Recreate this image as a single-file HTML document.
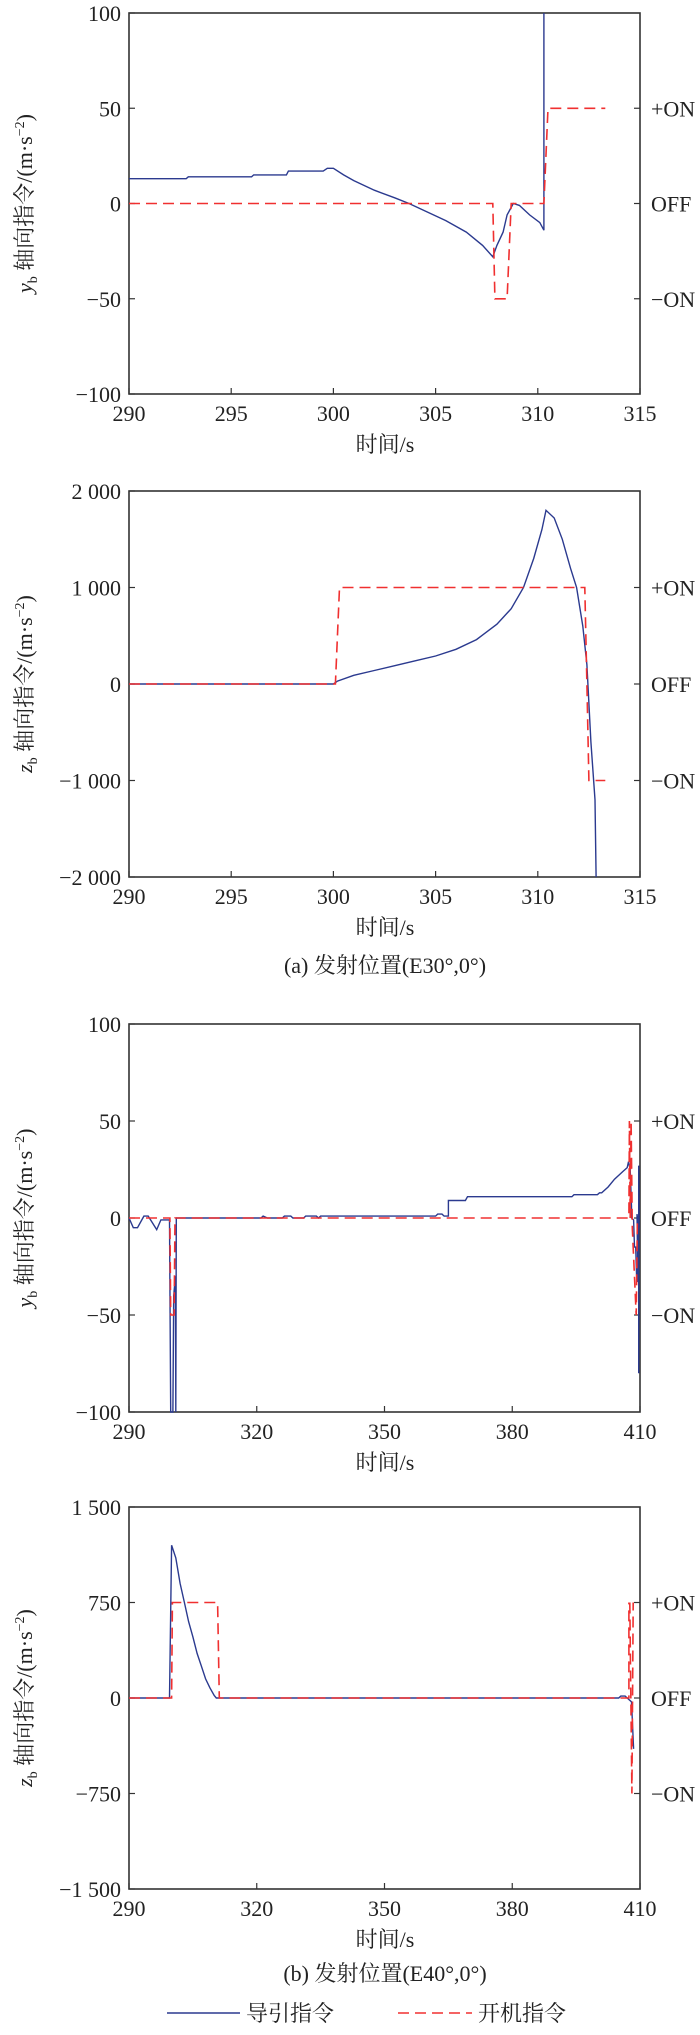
<!DOCTYPE html>
<html><head><meta charset="utf-8">
<style>
html,body{margin:0;padding:0;background:#fff;}
svg text{font-family:"Liberation Serif","Noto Serif CJK SC","Noto Sans CJK SC",serif;fill:#222;}
</style></head>
<body>
<svg id="s" width="700" height="2030" xmlns="http://www.w3.org/2000/svg"></svg>
<script>
const S=document.getElementById('s');
const NS='http://www.w3.org/2000/svg';
const FS=22;
function el(t,a,txt){const e=document.createElementNS(NS,t);for(const k in a)e.setAttribute(k,a[k]);if(txt!==undefined)e.textContent=txt;S.appendChild(e);return e;}
function plot(o){
 const L=129,R=640,T=o.top,B=o.bot;
 const X=x=>L+(x-o.x0)/(o.x1-o.x0)*(R-L);
 const Y=y=>T+(o.y1-y)/(o.y1-o.y0)*(B-T);
 el('rect',{x:L,y:T,width:R-L,height:B-T,fill:'none',stroke:'#333','stroke-width':1.6});
 o.yt.forEach(([v,l])=>{const y=Y(v);
   el('line',{x1:L,y1:y,x2:L+6,y2:y,stroke:'#333','stroke-width':1.2});
   el('text',{x:121,y:y+8,'text-anchor':'end','font-size':FS},l);});
 o.xt.forEach(v=>{const x=X(v);
   el('line',{x1:x,y1:B,x2:x,y2:B-6,stroke:'#333','stroke-width':1.2});
   el('text',{x:x,y:B+27,'text-anchor':'middle','font-size':FS},String(v));});
 o.rt.forEach(([v,l])=>{const y=Y(v);
   el('line',{x1:R,y1:y,x2:R-6,y2:y,stroke:'#333','stroke-width':1.2});
   el('text',{x:651,y:y+8,'font-size':FS},l);});
 el('text',{x:385,y:B+58,'text-anchor':'middle','font-size':FS},'时间/s');
 const cy=(T+B)/2;
 const t=el('text',{x:0,y:0,'text-anchor':'middle','font-size':FS,transform:`translate(32,${cy}) rotate(-90)`});
 const a=document.createElementNS(NS,'tspan');a.setAttribute('font-style','italic');a.textContent=o.v;t.appendChild(a);
 const b=document.createElementNS(NS,'tspan');b.setAttribute('font-size',14);b.setAttribute('dy',5);b.textContent='b';t.appendChild(b);
 const c=document.createElementNS(NS,'tspan');c.setAttribute('dy',-5);c.textContent=' 轴向指令/(m·s';t.appendChild(c);
 const d=document.createElementNS(NS,'tspan');d.setAttribute('font-size',14);d.setAttribute('dy',-8);d.textContent='−2';t.appendChild(d);
 const e=document.createElementNS(NS,'tspan');e.setAttribute('dy',8);e.textContent=')';t.appendChild(e);
 const P=pts=>pts.map((p,i)=>(i?'L':'M')+X(p[0]).toFixed(1)+' '+Y(p[1]).toFixed(1)).join('');
 (o.blue||[]).forEach(pts=>el('path',{d:P(pts),fill:'none',stroke:'#2b3a8f','stroke-width':1.4}));
 (o.red||[]).forEach(pts=>el('path',{d:P(pts),fill:'none',stroke:'#f03030','stroke-width':1.6,'stroke-dasharray':'11 6'}));
}
plot({top:13,bot:394,x0:290,x1:315,y0:-100,y1:100,v:'y',
 yt:[[100,'100'],[50,'50'],[0,'0'],[-50,'−50'],[-100,'−100']],xt:[290,295,300,305,310,315],
 rt:[[50,'+ON'],[0,'OFF'],[-50,'−ON']],
 blue:[[[290,13],[292.8,13],[292.9,14],[296,14],[296.1,15],[297.7,15],[297.8,17],[299.5,17],[299.7,18.5],[300,18.5],[300.5,15],[301,12],[302,7],[303,3],[303.7,0],[304.5,-4],[305.5,-9],[306.5,-15],[307.3,-22],[307.8,-28],[308,-22],[308.3,-15],[308.5,-6],[308.8,0],[309.1,-1],[309.6,-6],[310.1,-10],[310.3,-14],[310.3,100]]],
 red:[[[290,0],[307.8,0],[307.9,-50],[308.5,-50],[308.7,0],[310.3,0],[310.5,50],[313.3,50]]]});
plot({top:491,bot:877,x0:290,x1:315,y0:-2000,y1:2000,v:'z',
 yt:[[2000,'2 000'],[1000,'1 000'],[0,'0'],[-1000,'−1 000'],[-2000,'−2 000']],xt:[290,295,300,305,310,315],
 rt:[[1000,'+ON'],[0,'OFF'],[-1000,'−ON']],
 blue:[[[290,0],[300,0],[300.2,30],[301,90],[302,140],[303,190],[304,240],[305,290],[306,360],[307,460],[308,620],[308.7,780],[309.3,1000],[309.8,1300],[310.2,1600],[310.4,1800],[310.8,1720],[311.2,1500],[311.6,1200],[311.9,1000],[312.2,600],[312.4,200],[312.6,-600],[312.8,-1200],[312.85,-2000]]],
 red:[[[290,0],[300.1,0],[300.3,1000],[312.3,1000],[312.4,0],[312.5,-1000],[313.3,-1000]]]});
el('text',{x:385,y:973,'text-anchor':'middle','font-size':FS},'(a) 发射位置(E30°,0°)');
plot({top:1024,bot:1412,x0:290,x1:410,y0:-100,y1:100,v:'y',
 yt:[[100,'100'],[50,'50'],[0,'0'],[-50,'−50'],[-100,'−100']],xt:[290,320,350,380,410],
 rt:[[50,'+ON'],[0,'OFF'],[-50,'−ON']],
 blue:[[[290,0],[291,-5],[292,-5],[293.5,1],[294.5,1],[296.5,-6],[297.5,-1],[299.5,-1],[299.8,-100],[300.3,-100],[300.5,-40],[300.9,-30],[301,-100],[301.1,0],[321,0],[321.5,1],[322.5,0],[326,0],[326.5,1],[328,1],[328.5,0],[331,0],[331.5,1],[334,1],[334.5,0],[335,1],[362,1],[362.5,2],[363.5,2],[364,1],[365,1],[365,9],[369,9],[369.5,11],[394,11],[394.5,12],[400,12],[400.5,13],[401,13],[402.5,16],[404,20],[406,24],[407,26],[407.3,29],[407.7,25],[408,6],[408,0],[408.5,-1],[408.7,-15],[409,-15],[409.2,-30],[409.5,-33],[409.3,2],[409.8,-5],[409.7,27],[409.7,-80]]],
 red:[[[290,0],[299.6,0],[299.8,-50],[300.6,-50],[300.8,0],[407.4,0],[407.5,50],[407.7,0],[407.9,50],[408.2,-5],[409.1,-50],[409.4,0]]]});
plot({top:1507,bot:1889,x0:290,x1:410,y0:-1500,y1:1500,v:'z',
 yt:[[1500,'1 500'],[750,'750'],[0,'0'],[-750,'−750'],[-1500,'−1 500']],xt:[290,320,350,380,410],
 rt:[[750,'+ON'],[0,'OFF'],[-750,'−ON']],
 blue:[[[290,0],[299.5,0],[300,1200],[301,1100],[302,900],[303,750],[304,600],[305,480],[306,350],[307,250],[308,150],[309,80],[310,20],[310.5,0],[405,0],[405.5,15],[406.5,15],[407,0],[408,-30],[408.5,-400]]],
 red:[[[290,0],[300,0],[300.2,750],[310.8,750],[311.2,0],[407.4,0],[407.4,750]],[[407.6,750],[408.1,-750],[408.4,750]]]});
el('text',{x:385,y:1981,'text-anchor':'middle','font-size':FS},'(b) 发射位置(E40°,0°)');
el('line',{x1:167,y1:2013,x2:240,y2:2013,stroke:'#2b3a8f','stroke-width':1.6});
el('text',{x:246,y:2021,'font-size':FS},'导引指令');
el('line',{x1:398,y1:2013,x2:472,y2:2013,stroke:'#f03030','stroke-width':1.6,'stroke-dasharray':'11 6'});
el('text',{x:478,y:2021,'font-size':FS},'开机指令');
</script>
</body></html>
